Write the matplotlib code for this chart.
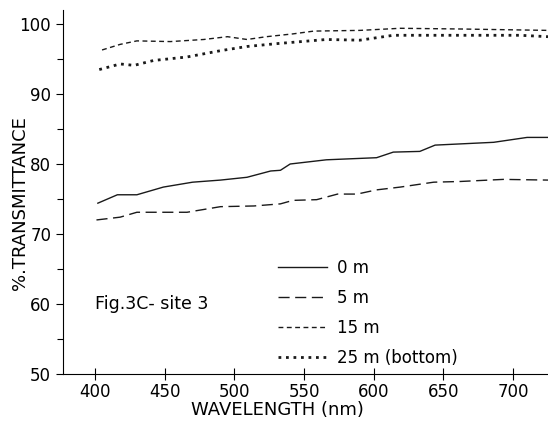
# espectros de transmitancia - sitio 3
import matplotlib
matplotlib.use('Agg')
import matplotlib.pyplot as plt
from matplotlib.ticker import MultipleLocator

# datos
wl_0m = [402, 416, 430, 449, 470, 490, 509, 526, 533, 540, 566, 602, 614, 633, 644, 686, 710, 725]
t_0m = [74.4, 75.6, 75.6, 76.7, 77.4, 77.7, 78.1, 79.0, 79.1, 80.0, 80.6, 80.9, 81.7, 81.8, 82.7, 83.1, 83.8, 83.8]

wl_5m = [401, 418, 430, 466, 490, 514, 533, 542, 559, 574, 588, 602, 619, 643, 662, 693, 725]
t_5m = [72.0, 72.4, 73.1, 73.1, 73.9, 74.0, 74.3, 74.8, 74.9, 75.7, 75.7, 76.3, 76.7, 77.4, 77.5, 77.8, 77.7]

wl_15m = [405, 418, 430, 454, 478, 495, 509, 523, 542, 557, 590, 619, 662, 725]
t_15m = [96.3, 97.1, 97.6, 97.5, 97.8, 98.2, 97.8, 98.2, 98.6, 99.0, 99.1, 99.4, 99.3, 99.1]

wl_25m = [403, 418, 428, 442, 466, 490, 509, 530, 542, 566, 590, 614, 650, 705, 725]
t_25m = [93.5, 94.3, 94.1, 94.8, 95.3, 96.2, 96.8, 97.2, 97.4, 97.8, 97.7, 98.4, 98.4, 98.4, 98.2]

etiquetas = ['0 m', '5 m', '15 m', '25 m (bottom)']

if __name__ == '__main__':

    fig = plt.figure(figsize=(5.48, 4.21), dpi=100)
    ax = fig.add_axes([0.115, 0.112, 0.885, 0.864])

    color = '#1a1a1a'
    ax.plot(wl_0m, t_0m, color=color, lw=1.0, ls='-', label=etiquetas[0])
    ax.plot(wl_5m, t_5m, color=color, lw=1.0, ls=(0, (8, 4)), label=etiquetas[1])
    ax.plot(wl_15m, t_15m, color=color, lw=1.0, ls=(0, (3.5, 2.5)), label=etiquetas[2])
    ax.plot(wl_25m, t_25m, color=color, lw=2.0, ls=(0, (1, 1.7)), label=etiquetas[3])

    ax.set_xlim(377, 725)
    ax.set_ylim(50, 102)

    ax.yaxis.set_major_locator(MultipleLocator(10))
    ax.yaxis.set_minor_locator(MultipleLocator(5))
    ax.set_xticks(range(400, 701, 50))

    ax.spines['top'].set_visible(False)
    ax.spines['right'].set_visible(False)
    ax.tick_params(axis='x', direction='inout', length=9, width=0.8, labelsize=12, pad=2)
    ax.tick_params(axis='y', which='major', direction='out', length=5, width=0.8, labelsize=12)
    ax.tick_params(axis='y', which='minor', direction='out', length=4, width=0.8)

    ax.set_xlabel('WAVELENGTH (nm)', fontsize=13, labelpad=0)
    ax.xaxis.set_label_coords(0.443, -0.075)
    ax.set_ylabel('%.TRANSMITTANCE', fontsize=13)
    ax.yaxis.set_label_coords(-0.07, 0.47)

    ax.text(0.065, 0.178, 'Fig.3C- site 3', transform=ax.transAxes, fontsize=12.5)

    ax.legend(loc='upper left', bbox_to_anchor=(0.43, 0.335), frameon=False,
              fontsize=12, handlelength=2.9, labelspacing=0.72, handletextpad=0.65,
              borderaxespad=0)

    plt.savefig('out.png', dpi=100)
